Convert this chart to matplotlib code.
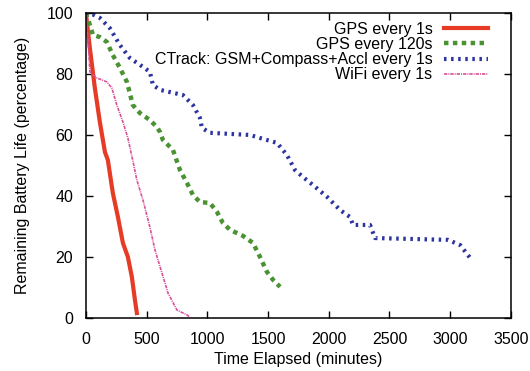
import matplotlib
matplotlib.use("Agg")
import matplotlib.pyplot as plt

# GPS every 1s
gps1_t = [0, 33, 74, 115, 157, 181, 222, 264, 305, 346, 379, 404, 420]
gps1_b = [100, 88.5, 75.4, 64.3, 54.4, 51.8, 41, 33.1, 24.6, 20, 13.4, 5.9, 1.6]

# GPS every 120s
gps120_t = [0, 33, 58, 115, 173, 222, 280, 338, 387, 445, 527, 585, 610, 634, 717,
            775, 832, 882, 939, 1022, 1079, 1129, 1187, 1294, 1376, 1434, 1491, 1541, 1599]
gps120_b = [100, 96.1, 92.8, 92.1, 90.5, 86.2, 82, 77.4, 69.8, 67.2, 64.9, 62.6, 61, 58.4, 55.1,
            48.5, 44.3, 40.3, 38, 37.7, 34.8, 31.1, 28.9, 26.9, 24.6, 20, 15.1, 12.5, 10.2]

# CTrack: GSM+Compass+Accl every 1s
ctrack_t = [0, 33, 115, 198, 280, 363, 445, 527, 552, 610, 799, 882, 939, 956, 1022,
            1351, 1434, 1574, 1656, 1722, 1788, 1870, 1986, 2093, 2175, 2200, 2340, 2381,
            2983, 3082, 3164]
ctrack_b = [100, 100, 98.4, 95, 89.5, 85.2, 83, 80.7, 76.4, 74.8, 73.1, 69.8, 65.6, 62.3, 60.7,
            60, 59, 57.4, 53.4, 48.5, 46.2, 43.6, 39.7, 35.4, 33.1, 30.5, 30.5, 26.2,
            25.6, 23.9, 19.7]

# WiFi every 1s
wifi_t = [0, 10, 20, 33, 91, 173, 214, 255, 305, 346, 387, 420, 470, 527, 569, 626,
          676, 750, 832, 857]
wifi_b = [100, 95, 90, 80.7, 78.7, 77.4, 75.4, 69.8, 64.3, 59, 51.5, 45.2, 38.7, 29.8, 22.3, 14.8,
          8.2, 2.6, 1, 0.3]

plt.rcParams['font.family'] = ['Liberation Sans', 'DejaVu Sans']
plt.rcParams['font.size'] = 11.5

fig = plt.figure(figsize=(5.3, 3.71), dpi=100)
ax = fig.add_axes([0.162, 0.143, 0.802, 0.822])

ax.plot(gps1_t, gps1_b, color='#e63b24', lw=3, label='GPS every 1s')
ax.plot(gps120_t, gps120_b, color='#4a9232', lw=3.2, linestyle=(0, (1.0, 1.0)),
        label='GPS every 120s')
ax.plot(ctrack_t, ctrack_b, color='#2c34a0', lw=3, linestyle=(0, (0.6, 1.1)),
        label='CTrack: GSM+Compass+Accl every 1s')
ax.plot(wifi_t, wifi_b, color='#d8509a', lw=1.2, linestyle=(0, (2, 0.6, 0.6, 0.6)),
        label='WiFi every 1s')

ax.set_xlim(0, 3500)
ax.set_ylim(0, 100)
ax.set_xticks(range(0, 3501, 500))
ax.set_yticks(range(0, 101, 20))
ax.tick_params(direction='in', top=True, right=True, length=5, width=1)
ax.tick_params(axis='x', pad=10)
ax.tick_params(axis='y', pad=9)
for s in ax.spines.values():
    s.set_linewidth(1.1)

ax.set_xlabel('Time Elapsed (minutes)', labelpad=4)
ax.set_ylabel('Remaining Battery Life (percentage)', labelpad=12)

ax.legend(loc='upper right', bbox_to_anchor=(0.962, 0.993), frameon=False,
          markerfirst=False, handlelength=2.8, labelspacing=0.02,
          borderaxespad=0.0, handletextpad=0.7)

fig.savefig('out.png', dpi=100)
